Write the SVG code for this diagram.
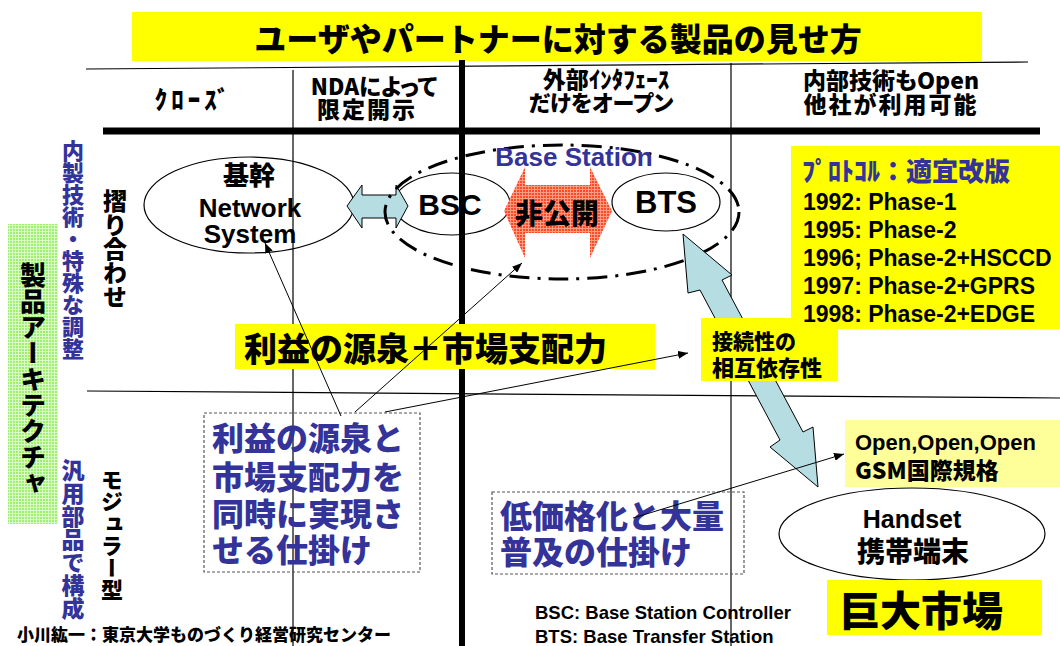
<svg xmlns="http://www.w3.org/2000/svg" width="1060" height="646" viewBox="0 0 1060 646">
<style>
.jp{font-family:"Noto Sans CJK JP","Noto Sans CJK SC",sans-serif;font-weight:900;fill:#000}
.lat{font-family:"Liberation Sans","Noto Sans CJK JP",sans-serif;font-weight:700;fill:#000}
.blue{fill:#333399}
.vt{writing-mode:vertical-rl}
.pl{font-feature-settings:"palt"}
.grid{stroke:#000;fill:none}
.oval{fill:none;stroke:#000;stroke-width:1.2}
.yel{fill:#FFFF00}
.dbox{fill:none;stroke:#555;stroke-width:1.2;stroke-dasharray:3 2}
.lb{fill:#B6DDE2;stroke:#000;stroke-width:1}
.conn{stroke:#000;stroke-width:1;fill:none;marker-end:url(#ah)}
</style>
<defs>
<marker id="ah" viewBox="0 0 10 8" refX="10" refY="4" markerWidth="10" markerHeight="8" markerUnits="userSpaceOnUse" orient="auto">
<path d="M0 0L10 4L0 8z" fill="#000"/>
</marker>
<pattern id="redGrid" width="3" height="3" patternUnits="userSpaceOnUse">
<rect width="3" height="3" fill="#FF4A28"/>
<path d="M0 0.5H3M0.5 0V3" stroke="#FF9C84" stroke-width="1"/>
</pattern>
<pattern id="greenGrid" width="3" height="3" patternUnits="userSpaceOnUse">
<rect width="3" height="3" fill="#A2EE74"/>
<path d="M0 0.5H3M0.5 0V3" stroke="#D8FFC4" stroke-width="1"/>
</pattern>
</defs>

<g id="title">
<rect x="132" y="12" width="850" height="49" class="yel"/>
<text class="jp" x="558" y="51" font-size="32" text-anchor="middle">ユーザやパートナーに対する製品の見せ方</text>
</g>

<g id="grid-lines">
<line class="grid" x1="86" y1="69" x2="1028" y2="62" stroke-width="1.2"/>
<line class="grid" x1="103" y1="131" x2="1040" y2="131" stroke-width="7"/>
<line class="grid" x1="293" y1="70" x2="293" y2="646" stroke-width="1.2"/>
<line class="grid" x1="462" y1="60" x2="462" y2="646" stroke-width="6"/>
<line class="grid" x1="731" y1="63" x2="731" y2="646" stroke-width="1.2"/>
<line class="grid" x1="87" y1="391" x2="1060" y2="398" stroke-width="1.2"/>
</g>

<g id="headers">
<text class="jp" x="194" y="109" font-size="25" letter-spacing="4" text-anchor="middle">ｸﾛｰｽﾞ</text>
<text class="jp pl" x="374" y="95" font-size="22.5" text-anchor="middle">NDAによって</text>
<text class="jp pl" x="367" y="118" font-size="23" letter-spacing="2" text-anchor="middle">限定開示</text>
<text class="jp" x="606" y="88" font-size="23" text-anchor="middle">外部ｲﾝﾀﾌｪｰｽ</text>
<text class="jp pl" x="601" y="111" font-size="22" text-anchor="middle">だけをオープン</text>
<text class="jp pl" x="891" y="89" font-size="23" text-anchor="middle">内部技術もOpen</text>
<text class="jp pl" x="891" y="113" font-size="23" letter-spacing="2" text-anchor="middle">他社が利用可能</text>
</g>

<g id="side-labels">
<rect x="8" y="224" width="50" height="300" fill="url(#greenGrid)"/>
<text class="jp vt" x="33" y="262" font-size="26">製品アーキテクチャ</text>
<text class="jp vt blue" x="73" y="140" font-size="22">内製技術・特殊な調整</text>
<text class="jp vt blue" x="73" y="459" font-size="23">汎用部品で構成</text>
<text class="jp vt" x="115" y="189" font-size="24">摺り合わせ</text>
<text class="jp vt" x="112" y="469" font-size="22">モジュラー型</text>
</g>

<g id="network-system">
<ellipse class="oval" cx="249" cy="205" rx="105" ry="48"/>
<text class="jp" x="249" y="185" font-size="26" text-anchor="middle">基幹</text>
<text class="lat" x="250" y="217" font-size="26" text-anchor="middle">Network</text>
<text class="lat" x="250" y="243" font-size="26" text-anchor="middle">System</text>
</g>

<g id="bsc">
<ellipse class="oval" cx="452" cy="204" rx="58" ry="31"/>
<text class="lat" x="450" y="215" font-size="30" text-anchor="middle">BSC</text>
</g>

<g id="bts">
<ellipse class="oval" cx="666" cy="202" rx="54" ry="29"/>
<text class="lat" x="666" y="213" font-size="31" text-anchor="middle">BTS</text>
</g>

<g id="ns-bsc-link">
<polygon class="lb" points="347,206 362,185 362,195 396,195 396,185 408,206 396,228 396,218 362,218 362,228"/>
</g>

<g id="hikoukai">
<polygon points="504,211 525,167 525,185 590,185 590,167 612,211 590,258 590,233 525,233 525,258" fill="url(#redGrid)"/>
<text class="jp" x="557" y="224" font-size="28" text-anchor="middle">非公開</text>
</g>

<g id="base-station">
<ellipse cx="562" cy="212" rx="177" ry="67" fill="none" stroke="#000" stroke-width="3" stroke-dasharray="20 8 3 8"/>
<text class="lat blue" x="574" y="166" font-size="26" text-anchor="middle">Base Station</text>
</g>

<g id="bts-handset-link">
<polygon class="lb" points="683,234 732,275 722,280 803,432 813,427 818,487 770,447 780,440 700,290 688,293"/>
</g>

<g id="interdependence">
<rect x="701" y="318" width="137" height="63" class="yel"/>
<text class="jp" x="712" y="349" font-size="21">接続性の</text>
<text class="jp" x="712" y="376" font-size="22">相互依存性</text>
</g>

<g id="protocol">
<rect x="791" y="146" width="269" height="183" class="yel"/>
<text class="jp blue" x="802" y="181" font-size="26">ﾌﾟﾛﾄｺﾙ：適宜改版</text>
<text class="lat" x="803" y="210" font-size="23">1992: Phase-1</text>
<text class="lat" x="803" y="238" font-size="23">1995: Phase-2</text>
<text class="lat" x="803" y="266" font-size="23">1996; Phase-2+HSCCD</text>
<text class="lat" x="803" y="294" font-size="23">1997: Phase-2+GPRS</text>
<text class="lat" x="803" y="322" font-size="23">1998: Phase-2+EDGE</text>
</g>

<g id="profit-source">
<rect x="235" y="324" width="420" height="45" class="yel"/>
<text class="jp" x="244" y="361" font-size="33">利益の源泉＋市場支配力</text>
</g>

<g id="mechanism-box">
<rect class="dbox" x="204" y="413" width="216" height="159"/>
<text class="jp blue" x="212" y="450" font-size="32">利益の源泉と</text>
<text class="jp blue" x="212" y="489" font-size="32">市場支配力を</text>
<text class="jp blue" x="212" y="526" font-size="32">同時に実現さ</text>
<text class="jp blue" x="212" y="562" font-size="32">せる仕掛け</text>
</g>

<g id="low-price-box">
<rect class="dbox" x="492" y="492" width="252" height="82"/>
<text class="jp blue" x="500" y="528" font-size="32">低価格化と大量</text>
<text class="jp blue" x="500" y="564" font-size="32">普及の仕掛け</text>
</g>

<g id="gsm-standard">
<rect x="845" y="420" width="215" height="67" fill="#FFFF99"/>
<text class="lat" x="855" y="450" font-size="22">Open,Open,Open</text>
<text class="jp" x="855" y="479" font-size="23">GSM国際規格</text>
</g>

<g id="handset">
<ellipse class="oval" cx="912" cy="534" rx="133" ry="46"/>
<text class="lat" x="912" y="528" font-size="25" text-anchor="middle">Handset</text>
<text class="jp" x="913" y="562" font-size="28" text-anchor="middle">携帯端末</text>
</g>

<g id="huge-market">
<rect x="827" y="580" width="215" height="55" class="yel"/>
<text class="jp" x="839" y="626" font-size="41">巨大市場</text>
</g>

<g id="legend">
<text class="lat" x="535" y="619" font-size="18.5">BSC: Base Station Controller</text>
<text class="lat" x="535" y="643" font-size="18.5">BTS: Base Transfer Station</text>
<text class="jp" x="17" y="641" font-size="17">小川紘一：東京大学ものづくり経営研究センター</text>
</g>

<g id="connectors">
<line class="conn" x1="341" y1="416" x2="265" y2="243"/>
<line class="conn" x1="355" y1="412" x2="522" y2="263"/>
<line class="conn" x1="385" y1="412" x2="688" y2="353"/>
<line class="conn" x1="633" y1="518" x2="844" y2="454"/>
</g>
</svg>
